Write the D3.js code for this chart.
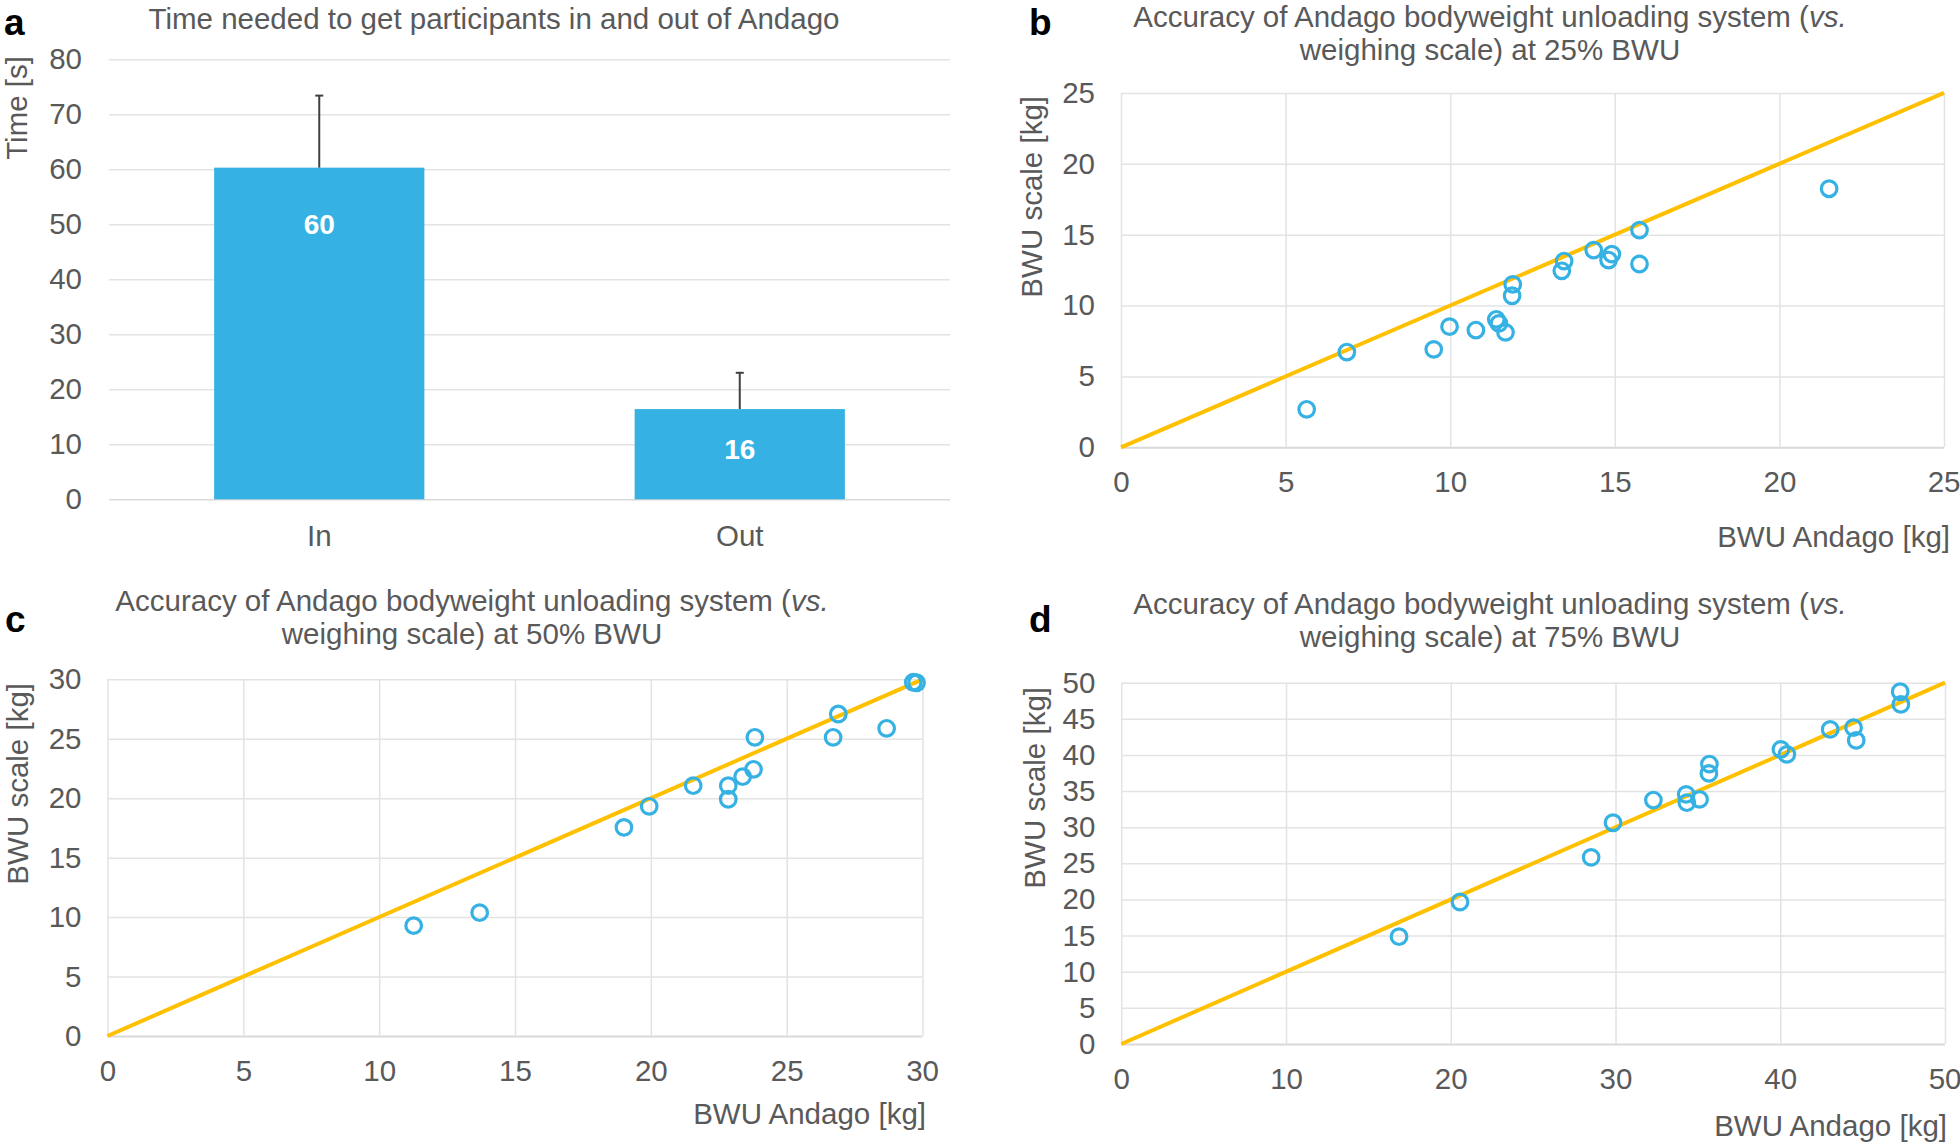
<!DOCTYPE html>
<html>
<head>
<meta charset="utf-8">
<script src="https://cdn.jsdelivr.net/npm/d3@7"></script>
<style>
  html, body { margin: 0; padding: 0; background: #fff; }
  svg { display: block; font-family: "Liberation Sans", Arial, sans-serif; }
</style>
</head>
<body>
<svg id="chart" width="1960" height="1144"></svg>
<script>
// ---------------- DATA ----------------
const barCategories = ["In", "Out"];
const barMeans = [60.3, 16.4];
const barSD = [13.1, 6.6];
const barLabels = ["60", "16"];
const barTicks = [0, 10, 20, 30, 40, 50, 60, 70, 80];

const andago25 = [5.64, 6.86, 9.50, 9.98, 10.78, 11.40, 11.48, 11.68, 11.90, 11.88, 13.39, 13.46, 14.36, 14.81, 14.91, 15.75, 15.75, 21.51];
const scale25  = [2.68, 6.72, 6.91, 8.51, 8.27, 9.03, 8.74, 8.11, 11.49, 10.69, 12.45, 13.14, 13.91, 13.21, 13.63, 15.32, 12.93, 18.24];
const ticks25 = [0, 5, 10, 15, 20, 25];

const andago50 = [11.27, 13.70, 19.01, 19.94, 21.56, 22.85, 22.85, 23.38, 23.78, 23.83, 26.71, 26.90, 28.68, 29.66, 29.78];
const scale50  = [9.28, 10.37, 17.55, 19.32, 21.05, 21.05, 19.91, 21.81, 22.43, 25.12, 25.12, 27.08, 25.88, 29.75, 29.71];
const ticks50 = [0, 5, 10, 15, 20, 25, 30];

const andago75 = [16.86, 20.56, 28.52, 29.85, 32.30, 34.29, 34.33, 35.10, 35.70, 35.67, 40.04, 40.40, 43.03, 44.45, 44.61, 47.28, 47.32];
const scale75  = [14.85, 19.65, 25.83, 30.62, 33.76, 34.55, 33.39, 33.85, 38.74, 37.45, 40.77, 40.08, 43.54, 43.77, 42.02, 48.75, 47.00];
const ticks75x = [0, 10, 20, 30, 40, 50];
const ticks75y = [0, 5, 10, 15, 20, 25, 30, 35, 40, 45, 50];

const barTitle = "Time needed to get participants in and out of Andago";
const barYLabel = "Time [s]";
const scatterYLabel = "BWU scale [kg]";
const scatterXLabel = "BWU Andago [kg]";
const bwuLevels = ["25%", "50%", "75%"];

// ---------------- STYLE ----------------
const TEXT = "#595959";
const GRID = "#e3e3e3";
const AXIS = "#d9d9d9";
const BLUE = "#35B2E3";
const GOLD = "#FFC000";
const FS = 29.5;

const svg = d3.select("#chart");
svg.append("rect").attr("width", 1960).attr("height", 1144).attr("fill", "#fff");

function panelLetter(letter, x, y) {
  svg.append("text").attr("x", x).attr("y", y)
    .attr("font-size", 37).attr("font-weight", "bold").attr("fill", "#000")
    .text(letter);
}

function styleAxis(g) {
  g.select(".domain").remove();
  g.selectAll(".tick line").attr("stroke", GRID).attr("stroke-width", 1.5);
  g.selectAll(".tick text").attr("fill", TEXT).attr("font-size", FS)
    .attr("font-family", "\"Liberation Sans\", Arial, sans-serif");
}

// ---------------- PANEL A ----------------
(function () {
  const L = 109, R = 950, T = 59.3, B = 499.3;
  const x = d3.scaleBand().domain(barCategories).range([L, R]).paddingInner(0.5).paddingOuter(0.25);
  const y = d3.scaleLinear().domain([0, 80]).range([B, T]);

  const gy = svg.append("g").attr("transform", `translate(${L},0)`)
    .call(d3.axisLeft(y).tickValues(barTicks).tickSize(-(R - L)).tickPadding(27).tickFormat(d3.format("d")));
  styleAxis(gy);
  gy.selectAll(".tick").filter(d => d === 0).select("line").attr("stroke", AXIS);

  const gx = svg.append("g").attr("transform", `translate(0,${B})`)
    .call(d3.axisBottom(x).tickSize(0).tickPadding(26));
  styleAxis(gx);

  const bars = barCategories.map((c, i) => ({ c, m: barMeans[i], sd: barSD[i], lab: barLabels[i] }));
  svg.append("g").selectAll("rect").data(bars).join("rect")
    .attr("x", d => x(d.c)).attr("width", x.bandwidth())
    .attr("y", d => y(d.m)).attr("height", d => B - y(d.m))
    .attr("fill", BLUE);

  const eb = svg.append("g").attr("stroke", "#404040").attr("stroke-width", 2);
  eb.selectAll("line.v").data(bars).join("line").attr("class", "v")
    .attr("x1", d => x(d.c) + x.bandwidth() / 2).attr("x2", d => x(d.c) + x.bandwidth() / 2)
    .attr("y1", d => y(d.m)).attr("y2", d => y(d.m + d.sd));
  eb.selectAll("line.h").data(bars).join("line").attr("class", "h")
    .attr("x1", d => x(d.c) + x.bandwidth() / 2 - 4).attr("x2", d => x(d.c) + x.bandwidth() / 2 + 4)
    .attr("y1", d => y(d.m + d.sd)).attr("y2", d => y(d.m + d.sd));

  // value labels (placed inside the bar, lower for short bars)
  svg.append("g").selectAll("text").data(bars).join("text")
    .attr("x", d => x(d.c) + x.bandwidth() / 2)
    .attr("y", (d, i) => y(d.m) + (i === 0 ? 66 : 50))
    .attr("text-anchor", "middle").attr("font-size", 28).attr("font-weight", "bold")
    .attr("fill", "#fff").text(d => d.lab);

  svg.append("text").attr("x", 494).attr("y", 29).attr("text-anchor", "middle")
    .attr("font-size", FS).attr("fill", TEXT).text(barTitle);

  svg.append("text").attr("transform", `translate(27,56) rotate(-90)`)
    .attr("text-anchor", "end").attr("font-size", FS).attr("fill", TEXT).text(barYLabel);

  panelLetter("a", 4, 35);
})();

// ---------------- SCATTER PANELS ----------------
function scatter(cfg) {
  const { L, R, T, B, xmax, ymax, xt, yt, xs, ys, level, titleX, titleY, letter, letterX, letterY,
          yLabX, yLabTop, xLabX, xLabY } = cfg;
  const x = d3.scaleLinear().domain([0, xmax]).range([L, R]);
  const y = d3.scaleLinear().domain([0, ymax]).range([B, T]);

  const gy = svg.append("g").attr("transform", `translate(${L},0)`)
    .call(d3.axisLeft(y).tickValues(yt).tickSize(-(R - L)).tickPadding(26).tickFormat(d3.format("d")));
  styleAxis(gy);
  gy.selectAll(".tick").filter(d => d === 0).select("line").attr("stroke", AXIS).attr("stroke-width", 2);

  const gx = svg.append("g").attr("transform", `translate(0,${B})`)
    .call(d3.axisBottom(x).tickValues(xt).tickSize(-(B - T)).tickPadding(25).tickFormat(d3.format("d")));
  styleAxis(gx);
  gx.selectAll(".tick text").attr("y", 24);
  // keep the last tick label inside the page edge
  gx.selectAll(".tick").filter(d => d === xmax).select("text").attr("text-anchor", "end").attr("dx", 16);

  // identity line
  const lim = Math.min(xmax, ymax);
  svg.append("line")
    .attr("x1", x(0)).attr("y1", y(0)).attr("x2", x(lim)).attr("y2", y(lim))
    .attr("stroke", GOLD).attr("stroke-width", 4);

  const pts = xs.map((v, i) => [v, ys[i]]);
  svg.append("g").selectAll("circle").data(pts).join("circle")
    .attr("cx", d => x(d[0])).attr("cy", d => y(d[1])).attr("r", 7.8)
    .attr("fill", "none").attr("stroke", BLUE).attr("stroke-width", 3.2);

  const t1 = svg.append("text").attr("x", titleX).attr("y", titleY).attr("text-anchor", "middle")
    .attr("font-size", FS).attr("fill", TEXT);
  t1.append("tspan").text("Accuracy of Andago bodyweight unloading system (");
  t1.append("tspan").attr("font-style", "italic").text("vs.");
  svg.append("text").attr("x", titleX).attr("y", titleY + 33).attr("text-anchor", "middle")
    .attr("font-size", FS).attr("fill", TEXT).text(`weighing scale) at ${level} BWU`);

  svg.append("text").attr("transform", `translate(${yLabX},${yLabTop}) rotate(-90)`)
    .attr("text-anchor", "end").attr("font-size", FS).attr("fill", TEXT).text(scatterYLabel);

  svg.append("text").attr("x", xLabX).attr("y", xLabY).attr("text-anchor", "end")
    .attr("font-size", FS).attr("fill", TEXT).text(scatterXLabel);

  panelLetter(letter, letterX, letterY);
}

scatter({ L: 1121, R: 1944, T: 92.9, B: 447.3, xmax: 25, ymax: 25, xt: ticks25, yt: ticks25,
  xs: andago25, ys: scale25, level: bwuLevels[0], titleX: 1490, titleY: 27,
  letter: "b", letterX: 1029, letterY: 35, yLabX: 1042, yLabTop: 96, xLabX: 1950, xLabY: 547 });

scatter({ L: 107.5, R: 922.5, T: 679.3, B: 1036, xmax: 30, ymax: 30, xt: ticks50, yt: ticks50,
  xs: andago50, ys: scale50, level: bwuLevels[1], titleX: 472, titleY: 611,
  letter: "c", letterX: 5, letterY: 632, yLabX: 28, yLabTop: 683, xLabX: 926, xLabY: 1124 });

scatter({ L: 1121.3, R: 1945, T: 682.7, B: 1044, xmax: 50, ymax: 50, xt: ticks75x, yt: ticks75y,
  xs: andago75, ys: scale75, level: bwuLevels[2], titleX: 1490, titleY: 614,
  letter: "d", letterX: 1029, letterY: 632, yLabX: 1045, yLabTop: 687, xLabX: 1947, xLabY: 1136 });
</script>
</body>
</html>
